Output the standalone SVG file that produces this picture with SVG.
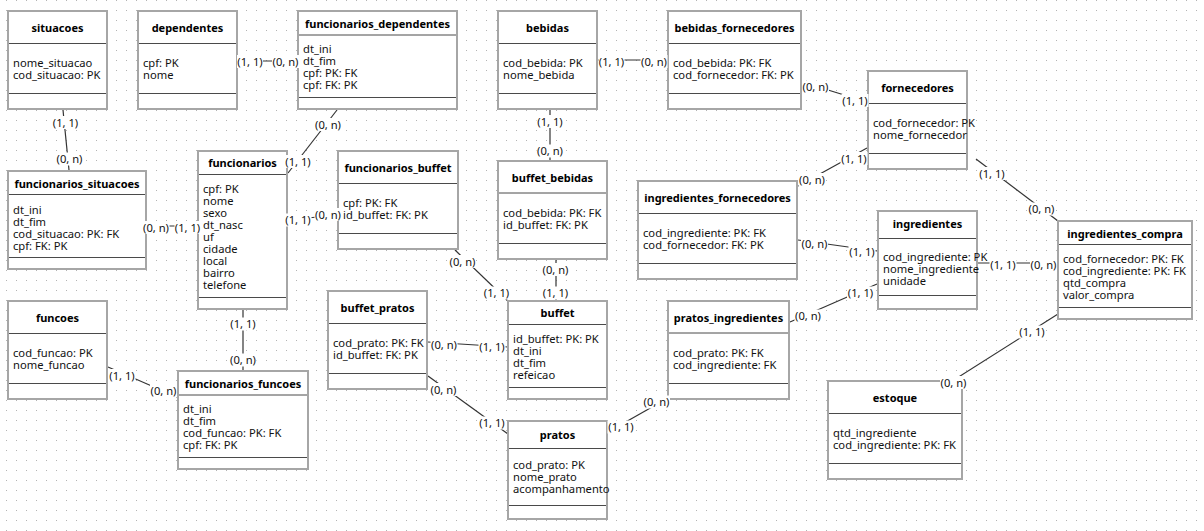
<svg xmlns="http://www.w3.org/2000/svg" width="1204" height="531" viewBox="0 0 1204 531">
<defs>
<pattern id="grid" width="10" height="10" patternUnits="userSpaceOnUse"><rect x="6" y="0" width="1" height="1" fill="#b4b4b4"/></pattern>
</defs>
<style>
.node rect{fill:#fff;stroke:#a6a6a6;stroke-width:2}
.node line{stroke:#4a4a4a;stroke-width:1}
.node text{font-family:"Noto Sans","Open Sans","DejaVu Sans",sans-serif;font-size:11.2px;fill:#111}
.node text.t{font-weight:bold;font-size:11px;text-anchor:middle;fill:#000}
.conn line{stroke:#333;stroke-width:1.2}
.conn rect{fill:#fff}
.conn text{font-family:"Noto Sans","Open Sans","DejaVu Sans",sans-serif;font-size:11.2px;fill:#111;text-anchor:middle}
</style>
<rect width="1204" height="531" fill="#fff"/>
<rect width="1204" height="531" fill="url(#grid)"/>

<g id="connectors" class="conn">
<line x1="63" y1="110" x2="69" y2="170"/>
<line x1="238" y1="61" x2="297" y2="61"/>
<line x1="337" y1="110" x2="288" y2="173"/>
<line x1="147" y1="226" x2="197" y2="226"/>
<line x1="288" y1="220" x2="337" y2="215"/>
<line x1="243" y1="310" x2="243" y2="370"/>
<line x1="108" y1="367" x2="177" y2="397"/>
<line x1="455" y1="250" x2="508" y2="301"/>
<line x1="550" y1="110" x2="550" y2="160"/>
<line x1="556" y1="260" x2="556" y2="300"/>
<line x1="428" y1="342" x2="508" y2="347"/>
<line x1="428" y1="376" x2="508" y2="434"/>
<line x1="608" y1="432" x2="668" y2="398"/>
<line x1="790" y1="322" x2="877" y2="284"/>
<line x1="798" y1="240" x2="877" y2="251"/>
<line x1="798" y1="186" x2="867" y2="148"/>
<line x1="802" y1="82" x2="867" y2="102"/>
<line x1="598" y1="60" x2="667" y2="60"/>
<line x1="976" y1="159" x2="1058" y2="221"/>
<line x1="978" y1="263" x2="1057" y2="263"/>
<line x1="1058" y1="314" x2="927" y2="397"/>
</g>

<g id="situacoes" class="node">
<rect x="8" y="11" width="99" height="98"/>
<line x1="9" y1="43.5" x2="106" y2="43.5"/><line x1="9" y1="93.5" x2="106" y2="93.5"/>
<text class="t" x="57.5" y="32">situacoes</text>
<text x="13" y="67">nome_situacao</text><text x="13" y="79">cod_situacao: PK</text>
</g>
<g id="dependentes" class="node">
<rect x="138" y="11" width="99" height="98"/>
<line x1="139" y1="43.5" x2="236" y2="43.5"/><line x1="139" y1="93.5" x2="236" y2="93.5"/>
<text class="t" x="187.5" y="32">dependentes</text>
<text x="143" y="67">cpf: PK</text><text x="143" y="79">nome</text>
</g>
<g id="funcionarios_dependentes" class="node">
<rect x="298" y="11" width="159" height="98"/>
<line x1="299" y1="35" x2="456" y2="35"/><line x1="299" y1="97.5" x2="456" y2="97.5"/>
<text class="t" x="377.5" y="28">funcionarios_dependentes</text>
<text x="303" y="53">dt_ini</text><text x="303" y="65">dt_fim</text><text x="303" y="77">cpf: PK: FK</text><text x="303" y="89">cpf: FK: PK</text>
</g>
<g id="bebidas" class="node">
<rect x="498" y="11" width="99" height="98"/>
<line x1="499" y1="43.5" x2="596" y2="43.5"/><line x1="499" y1="93.5" x2="596" y2="93.5"/>
<text class="t" x="547.5" y="32">bebidas</text>
<text x="503" y="67">cod_bebida: PK</text><text x="503" y="79">nome_bebida</text>
</g>
<g id="bebidas_fornecedores" class="node">
<rect x="668" y="11" width="133" height="98"/>
<line x1="669" y1="43.5" x2="800" y2="43.5"/><line x1="669" y1="93.5" x2="800" y2="93.5"/>
<text class="t" x="734.5" y="32">bebidas_fornecedores</text>
<text x="673" y="67">cod_bebida: PK: FK</text><text x="673" y="79">cod_fornecedor: FK: PK</text>
</g>
<g id="fornecedores" class="node">
<rect x="868" y="71" width="99" height="98"/>
<line x1="869" y1="103.5" x2="966" y2="103.5"/><line x1="869" y1="153.5" x2="966" y2="153.5"/>
<text class="t" x="917.5" y="92">fornecedores</text>
<text x="873" y="127">cod_fornecedor: PK</text><text x="873" y="139">nome_fornecedor</text>
</g>
<g id="ingredientes" class="node">
<rect x="878" y="211" width="99" height="98"/>
<line x1="879" y1="238.5" x2="976" y2="238.5"/><line x1="879" y1="295.5" x2="976" y2="295.5"/>
<text class="t" x="927.5" y="228">ingredientes</text>
<text x="883" y="261">cod_ingrediente: PK</text><text x="883" y="273">nome_ingrediente</text><text x="883" y="285">unidade</text>
</g>
<g id="ingredientes_compra" class="node">
<rect x="1058" y="221" width="134" height="98"/>
<line x1="1059" y1="244.5" x2="1191" y2="244.5"/><line x1="1059" y1="307.5" x2="1191" y2="307.5"/>
<text class="t" x="1125" y="238">ingredientes_compra</text>
<text x="1063" y="263">cod_fornecedor: PK: FK</text><text x="1063" y="275">cod_ingrediente: PK: FK</text><text x="1063" y="287">qtd_compra</text><text x="1063" y="299">valor_compra</text>
</g>
<g id="funcionarios_situacoes" class="node">
<rect x="8" y="171" width="138" height="98"/>
<line x1="9" y1="194.5" x2="145" y2="194.5"/><line x1="9" y1="257.5" x2="145" y2="257.5"/>
<text class="t" x="77" y="188">funcionarios_situacoes</text>
<text x="13" y="214">dt_ini</text><text x="13" y="226">dt_fim</text><text x="13" y="238">cod_situacao: PK: FK</text><text x="13" y="250">cpf: FK: PK</text>
</g>
<g id="funcionarios" class="node">
<rect x="198" y="151" width="89" height="158"/>
<line x1="199" y1="174.5" x2="286" y2="174.5"/><line x1="199" y1="297.5" x2="286" y2="297.5"/>
<text class="t" x="242.5" y="167">funcionarios</text>
<text x="203" y="193">cpf: PK</text><text x="203" y="205">nome</text><text x="203" y="217">sexo</text><text x="203" y="229">dt_nasc</text><text x="203" y="241">uf</text><text x="203" y="253">cidade</text><text x="203" y="265">local</text><text x="203" y="277">bairro</text><text x="203" y="289">telefone</text>
</g>
<g id="funcionarios_buffet" class="node">
<rect x="338" y="151" width="120" height="98"/>
<line x1="339" y1="183.5" x2="457" y2="183.5"/><line x1="339" y1="233.5" x2="457" y2="233.5"/>
<text class="t" x="398" y="171.5">funcionarios_buffet</text>
<text x="343" y="207">cpf: PK: FK</text><text x="343" y="219">id_buffet: FK: PK</text>
</g>
<g id="buffet_bebidas" class="node">
<rect x="498" y="161" width="109" height="98"/>
<line x1="499" y1="193" x2="606" y2="193"/><line x1="499" y1="243.5" x2="606" y2="243.5"/>
<text class="t" x="552.5" y="181.5">buffet_bebidas</text>
<text x="503" y="217">cod_bebida: PK: FK</text><text x="503" y="229">id_buffet: FK: PK</text>
</g>
<g id="ingredientes_fornecedores" class="node">
<rect x="638" y="181" width="159" height="98"/>
<line x1="639" y1="213.5" x2="796" y2="213.5"/><line x1="639" y1="263.5" x2="796" y2="263.5"/>
<text class="t" x="717.5" y="202">ingredientes_fornecedores</text>
<text x="643" y="237">cod_ingrediente: PK: FK</text><text x="643" y="249">cod_fornecedor: FK: PK</text>
</g>
<g id="funcoes" class="node">
<rect x="8" y="301" width="99" height="98"/>
<line x1="9" y1="333.5" x2="106" y2="333.5"/><line x1="9" y1="383.5" x2="106" y2="383.5"/>
<text class="t" x="57.5" y="322">funcoes</text>
<text x="13" y="357">cod_funcao: PK</text><text x="13" y="369">nome_funcao</text>
</g>
<g id="funcionarios_funcoes" class="node">
<rect x="178" y="371" width="130" height="98"/>
<line x1="179" y1="395" x2="307" y2="395"/><line x1="179" y1="457.5" x2="307" y2="457.5"/>
<text class="t" x="243" y="388">funcionarios_funcoes</text>
<text x="183" y="413">dt_ini</text><text x="183" y="425">dt_fim</text><text x="183" y="437">cod_funcao: PK: FK</text><text x="183" y="449">cpf: FK: PK</text>
</g>
<g id="buffet_pratos" class="node">
<rect x="328" y="291" width="99" height="98"/>
<line x1="329" y1="323.5" x2="426" y2="323.5"/><line x1="329" y1="373.5" x2="426" y2="373.5"/>
<text class="t" x="377.5" y="312">buffet_pratos</text>
<text x="333" y="347">cod_prato: PK: FK</text><text x="333" y="359">id_buffet: FK: PK</text>
</g>
<g id="buffet" class="node">
<rect x="508" y="301" width="99" height="98"/>
<line x1="509" y1="324.5" x2="606" y2="324.5"/><line x1="509" y1="387.5" x2="606" y2="387.5"/>
<text class="t" x="557.5" y="317">buffet</text>
<text x="513" y="343">id_buffet: PK: PK</text><text x="513" y="355">dt_ini</text><text x="513" y="367">dt_fim</text><text x="513" y="379">refeicao</text>
</g>
<g id="pratos" class="node">
<rect x="508" y="421" width="99" height="98"/>
<line x1="509" y1="448.5" x2="606" y2="448.5"/><line x1="509" y1="505.5" x2="606" y2="505.5"/>
<text class="t" x="557.5" y="439">pratos</text>
<text x="513" y="469">cod_prato: PK</text><text x="513" y="481">nome_prato</text><text x="513" y="493">acompanhamento</text>
</g>
<g id="pratos_ingredientes" class="node">
<rect x="668" y="301" width="121" height="98"/>
<line x1="669" y1="333" x2="788" y2="333"/><line x1="669" y1="383.5" x2="788" y2="383.5"/>
<text class="t" x="728.5" y="322">pratos_ingredientes</text>
<text x="673" y="357">cod_prato: PK: FK</text><text x="673" y="369">cod_ingrediente: FK</text>
</g>
<g id="estoque" class="node">
<rect x="828" y="381" width="134" height="98"/>
<line x1="829" y1="413.5" x2="961" y2="413.5"/><line x1="829" y1="463.5" x2="961" y2="463.5"/>
<text class="t" x="895" y="402">estoque</text>
<text x="833" y="437">qtd_ingrediente</text><text x="833" y="449">cod_ingrediente: PK: FK</text>
</g>

<g id="connector-labels" class="conn">
<rect x="52" y="116" width="27" height="13"/><text x="65.5" y="126.5">(1, 1)</text>
<rect x="56" y="152.5" width="27" height="13"/><text x="69.5" y="163">(0, n)</text>
<rect x="237" y="55" width="26" height="13"/><text x="250" y="65.5">(1, 1)</text>
<rect x="272" y="55" width="27" height="13"/><text x="285.5" y="65.5">(0, n)</text>
<rect x="314.5" y="118" width="27" height="13"/><text x="328" y="128.5">(0, n)</text>
<rect x="284.5" y="155" width="27" height="13"/><text x="298" y="165.5">(1, 1)</text>
<rect x="142.5" y="221" width="27" height="13"/><text x="156" y="231.5">(0, n)</text>
<rect x="174.5" y="221" width="26" height="13"/><text x="187.5" y="231.5">(1, 1)</text>
<rect x="284.5" y="213.5" width="27" height="13"/><text x="298" y="224">(1, 1)</text>
<rect x="314.5" y="208" width="27" height="13"/><text x="328" y="218.5">(0, n)</text>
<rect x="229.5" y="317.5" width="27" height="13"/><text x="243" y="328">(1, 1)</text>
<rect x="229.5" y="353.5" width="27" height="13"/><text x="243" y="364">(0, n)</text>
<rect x="108.5" y="369" width="27" height="13"/><text x="122" y="379.5">(1, 1)</text>
<rect x="150" y="384" width="27" height="13"/><text x="163.5" y="394.5">(0, n)</text>
<rect x="449" y="255" width="27" height="13"/><text x="462.5" y="265.5">(0, n)</text>
<rect x="483" y="286.5" width="27" height="13"/><text x="496.5" y="297">(1, 1)</text>
<rect x="536.5" y="115" width="27" height="13"/><text x="550" y="125.5">(1, 1)</text>
<rect x="536.5" y="144.5" width="27" height="13"/><text x="550" y="155">(0, n)</text>
<rect x="542" y="263" width="27" height="13"/><text x="555.5" y="273.5">(0, n)</text>
<rect x="542" y="286.5" width="27" height="13"/><text x="555.5" y="297">(1, 1)</text>
<rect x="430.5" y="338.5" width="27" height="13"/><text x="444" y="349">(0, n)</text>
<rect x="478.5" y="340" width="27" height="13"/><text x="492" y="350.5">(1, 1)</text>
<rect x="430" y="383" width="27" height="13"/><text x="443.5" y="393.5">(0, n)</text>
<rect x="478.5" y="416.5" width="27" height="13"/><text x="492" y="427">(1, 1)</text>
<rect x="607.5" y="420.5" width="27" height="13"/><text x="621" y="431">(1, 1)</text>
<rect x="643" y="395.5" width="27" height="13"/><text x="656.5" y="406">(0, n)</text>
<rect x="794.5" y="309.5" width="27" height="13"/><text x="808" y="320">(0, n)</text>
<rect x="847" y="286.5" width="27" height="13"/><text x="860.5" y="297">(1, 1)</text>
<rect x="801" y="237.5" width="27" height="13"/><text x="814.5" y="248">(0, n)</text>
<rect x="848.5" y="245" width="27" height="13"/><text x="862" y="255.5">(1, 1)</text>
<rect x="798.5" y="173" width="27" height="13"/><text x="812" y="183.5">(0, n)</text>
<rect x="840.5" y="152" width="27" height="13"/><text x="854" y="162.5">(1, 1)</text>
<rect x="802" y="80.5" width="27" height="13"/><text x="815.5" y="91">(0, n)</text>
<rect x="841.5" y="94" width="27" height="13"/><text x="855" y="104.5">(1, 1)</text>
<rect x="598.5" y="55" width="26" height="13"/><text x="611.5" y="65.5">(1, 1)</text>
<rect x="640.5" y="55" width="27" height="13"/><text x="654" y="65.5">(0, n)</text>
<rect x="978.5" y="167" width="27" height="13"/><text x="992" y="177.5">(1, 1)</text>
<rect x="1028" y="202.5" width="27" height="13"/><text x="1041.5" y="213">(0, n)</text>
<rect x="989.5" y="258.5" width="27" height="13"/><text x="1003" y="269">(1, 1)</text>
<rect x="1030" y="258.5" width="27" height="13"/><text x="1043.5" y="269">(0, n)</text>
<rect x="1018.5" y="325.5" width="27" height="13"/><text x="1032" y="336">(1, 1)</text>
<rect x="940" y="376" width="27" height="13"/><text x="953.5" y="386.5">(0, n)</text>
</g>
</svg>
